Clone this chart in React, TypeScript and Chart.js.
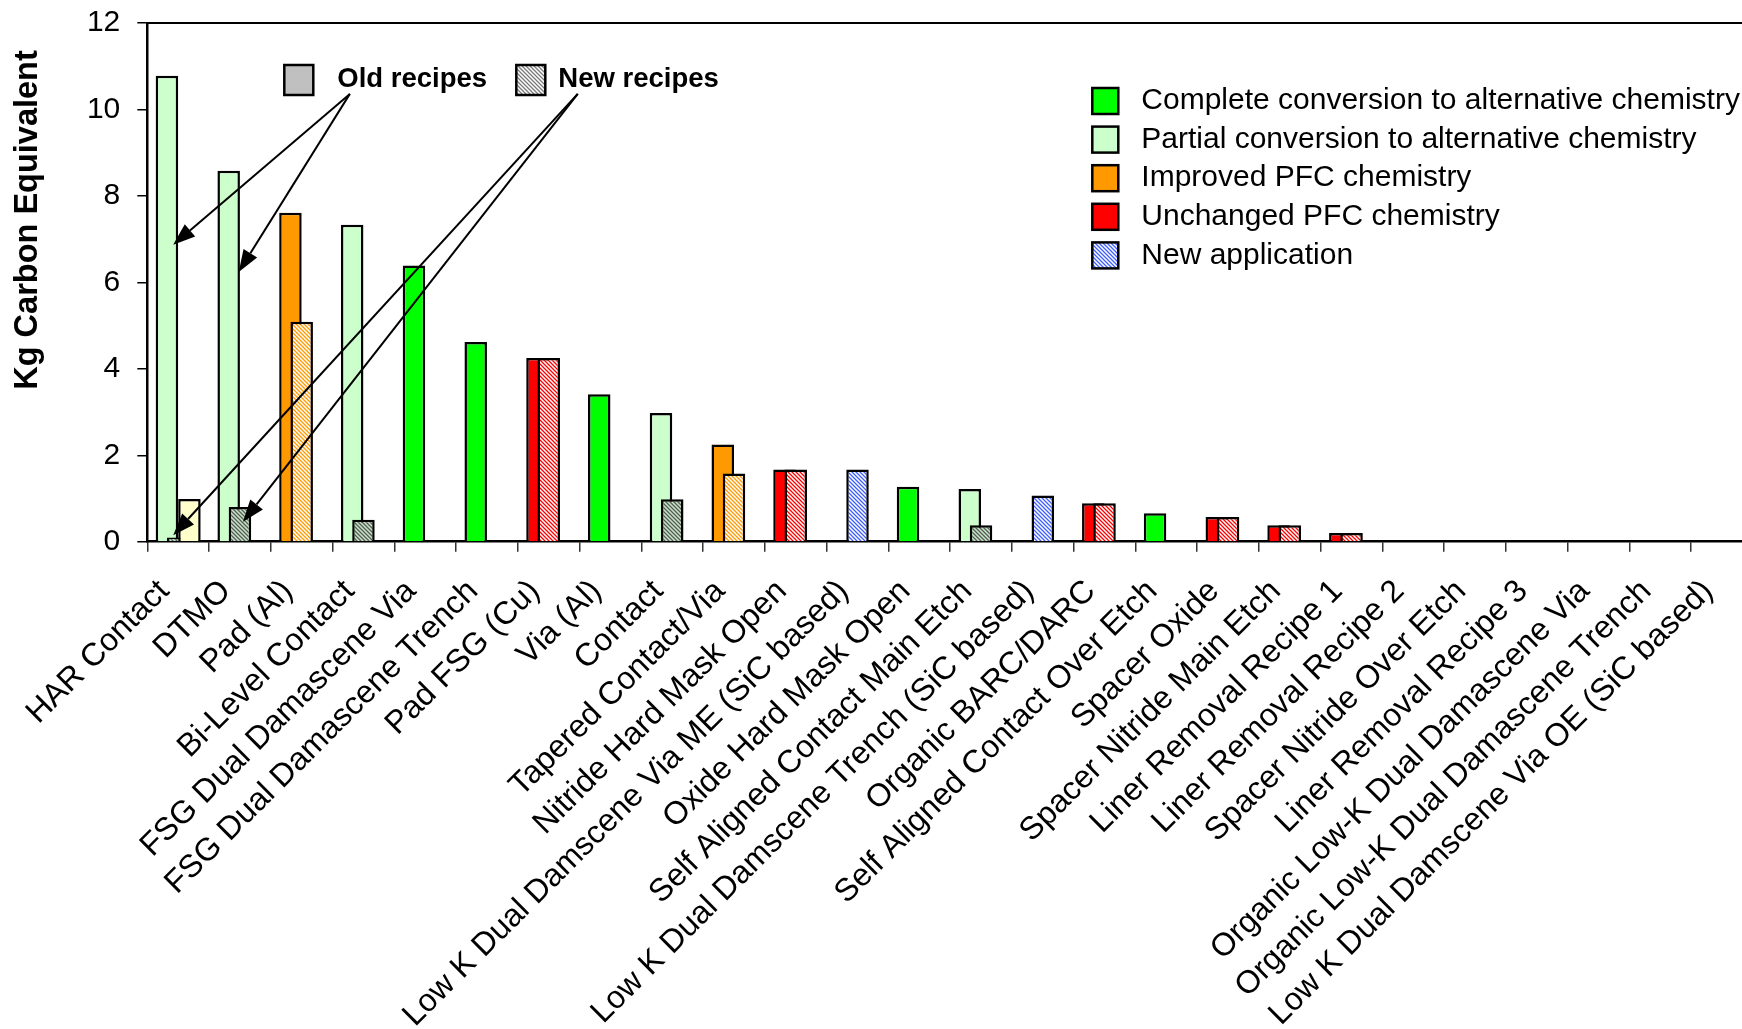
import React, { useEffect, useRef } from 'react';
import { Chart, registerables } from 'chart.js';

Chart.register(...registerables);

// ---------------- data ----------------
const categories = [
  'HAR Contact',
  'DTMO',
  'Pad (Al)',
  'Bi-Level Contact',
  'FSG Dual Damascene Via',
  'FSG Dual Damascene Trench',
  'Pad FSG (Cu)',
  'Via (Al)',
  'Contact',
  'Tapered Contact/Via',
  'Nitride Hard Mask Open',
  'Low K Dual Damscene Via ME (SiC based)',
  'Oxide Hard Mask Open',
  'Self Aligned Contact Main Etch',
  'Low K Dual Damscene Trench (SiC based)',
  'Organic BARC/DARC',
  'Self Aligned Contact Over Etch',
  'Spacer Oxide',
  'Spacer Nitride Main Etch',
  'Liner Removal Recipe 1',
  'Liner Removal Recipe 2',
  'Spacer Nitride Over Etch',
  'Liner Removal Recipe 3',
  'Organic Low-K Dual Damascene Via',
  'Organic Low-K Dual Damascene Trench',
  'Low K Dual Damscene Via OE (SiC based)',
];

// chemistry class of each process
const categoryTypes = [
  'partial', 'partial', 'improved', 'partial', 'complete', 'complete', 'unchanged', 'complete',
  'partial', 'improved', 'unchanged', 'newapp', 'complete', 'partial', 'newapp', 'unchanged',
  'complete', 'unchanged', 'unchanged', 'unchanged', 'none', 'none', 'none', 'none', 'none', 'none',
];

const oldRecipeValues = [
  10.78, 8.58, 7.61, 7.33, 6.39, 4.62, 4.25, 3.41, 2.98, 2.25, 1.67, null, 1.27, 1.22, null, 0.89,
  0.66, 0.57, 0.38, 0.2, null, null, null, null, null, null,
];

const newRecipeValues = [
  0.1, 0.8, 5.09, 0.51, null, null, 4.25, null, 0.98, 1.58, 1.67, 1.67, null, 0.38, 1.07, 0.89,
  null, 0.57, 0.38, 0.2, null, null, null, null, null, null,
];

const extraRecipeValues = [
  0.99, null, null, null, null, null, null, null, null, null, null, null, null, null, null, null,
  null, null, null, null, null, null, null, null, null, null,
];

const yTickValues = [0, 2, 4, 6, 8, 10, 12];

const legendTypes = ['complete', 'partial', 'improved', 'unchanged', 'newapp'];
const legendLabels = [
  'Complete conversion to alternative chemistry',
  'Partial conversion to alternative chemistry',
  'Improved PFC chemistry',
  'Unchanged PFC chemistry',
  'New application',
];

const recipeLegendLabels = ['Old recipes', 'New recipes'];
const yAxisTitle = 'Kg Carbon Equivalent';

// arrows: [category index (fractional), value] for start and tip
const oldArrowStart = [2.78, 10.36];
const oldArrowTips = [[-0.08, 6.87], [0.98, 6.24]];
const newArrowStart = [6.47, 10.36];
const newArrowTips = [[-0.08, 0.15], [1.05, 0.46]];

// ---------------- styles ----------------
const FONT = "'Liberation Sans', Arial, Helvetica, sans-serif";
const solidColors: Record<string, string> = {
  complete: '#00ff00',
  partial: '#ccffcc',
  improved: '#ff9900',
  unchanged: '#ff0000',
};

function makeHatch(bg: string, fg: string): CanvasPattern | string {
  const c = document.createElement('canvas');
  c.width = 4;
  c.height = 4;
  const g = c.getContext('2d');
  if (!g) return bg;
  g.fillStyle = bg;
  g.fillRect(0, 0, 4, 4);
  g.strokeStyle = fg;
  g.lineWidth = 1.3;
  g.beginPath();
  g.moveTo(-1, -1);
  g.lineTo(5, 5);
  g.moveTo(-1, 3);
  g.lineTo(1, 5);
  g.moveTo(3, -1);
  g.lineTo(5, 1);
  g.stroke();
  return g.createPattern(c, 'repeat') || bg;
}

export default function App() {
  const canvasRef = useRef<HTMLCanvasElement | null>(null);

  useEffect(() => {
    const canvas = canvasRef.current;
    if (!canvas) return;

    const hatches: Record<string, CanvasPattern | string> = {
      partial: makeHatch('#c4e6c4', '#5a5a5a'),
      improved: makeHatch('#ffffff', '#ff9900'),
      unchanged: makeHatch('#ffffff', '#ff0000'),
      newapp: makeHatch('#ffffff', '#3f5fff'),
      grey: makeHatch('#ffffff', '#7a7a7a'),
    };

    const oldColors = categoryTypes.map((t) => solidColors[t] || '#c0c0c0');
    const newColors = categoryTypes.map((t) => hatches[t] || '#c0c0c0');

    const orderedBars = {
      id: 'orderedBars',
      beforeDatasetsDraw(chart: any) {
        const ctx = chart.ctx;
        const a = chart.chartArea;
        ctx.save();
        ctx.beginPath();
        ctx.rect(a.left, a.top - 4, a.right - a.left, a.bottom - a.top + 4);
        ctx.clip();
        for (let i = 0; i < chart.data.datasets.length; i++) {
          const meta = chart.getDatasetMeta(i);
          if (!meta.hidden) meta.controller.draw();
        }
        ctx.restore();
        return false;
      },
    };

    const decorations = {
      id: 'decorations',
      afterDraw(chart: any) {
        const ctx = chart.ctx;
        const a = chart.chartArea;
        const xs = chart.scales.x;
        const ys = chart.scales.y;
        const step = xs.getPixelForValue(1) - xs.getPixelForValue(0);
        const px = (i: number) => xs.getPixelForValue(0) + i * step;
        const py = (v: number) => ys.getPixelForValue(v);

        ctx.save();
        // top border of plot
        ctx.strokeStyle = '#000';
        ctx.lineWidth = 2;
        ctx.beginPath();
        ctx.moveTo(a.left, a.top);
        ctx.lineTo(a.right, a.top);
        ctx.stroke();

        // y axis title
        ctx.save();
        ctx.translate(28, a.top + 197);
        ctx.rotate(-Math.PI / 2);
        ctx.font = `bold 32.5px ${FONT}`;
        ctx.fillStyle = '#000';
        ctx.textAlign = 'center';
        ctx.textBaseline = 'middle';
        ctx.fillText(yAxisTitle, 0, 0);
        ctx.restore();

        // recipe key
        const keyTop = a.top + 42;
        const keyBoxes = [
          { x: a.left + 137, gap: 53, fill: '#c0c0c0' as any },
          { x: a.left + 369, gap: 42, fill: hatches.grey as any },
        ];
        ctx.font = `bold 27.5px ${FONT}`;
        ctx.textBaseline = 'middle';
        ctx.textAlign = 'left';
        keyBoxes.forEach((b, i) => {
          ctx.fillStyle = b.fill;
          ctx.fillRect(b.x, keyTop, 29, 30);
          ctx.strokeStyle = '#000';
          ctx.lineWidth = 2.5;
          ctx.strokeRect(b.x, keyTop, 29, 30);
          ctx.fillStyle = '#000';
          ctx.fillText(recipeLegendLabels[i], b.x + b.gap, keyTop + 14);
        });

        // arrows
        const arrow = (from: number[], to: number[]) => {
          const x0 = px(from[0]);
          const y0 = py(from[1]);
          const x1 = px(to[0]);
          const y1 = py(to[1]);
          const ang = Math.atan2(y1 - y0, x1 - x0);
          const len = 22;
          const hw = 8;
          const bx = x1 - len * Math.cos(ang);
          const by = y1 - len * Math.sin(ang);
          ctx.strokeStyle = '#000';
          ctx.lineWidth = 2;
          ctx.beginPath();
          ctx.moveTo(x0, y0);
          ctx.lineTo(bx, by);
          ctx.stroke();
          ctx.fillStyle = '#000';
          ctx.beginPath();
          ctx.moveTo(x1, y1);
          ctx.lineTo(bx + hw * Math.sin(ang), by - hw * Math.cos(ang));
          ctx.lineTo(bx - hw * Math.sin(ang), by + hw * Math.cos(ang));
          ctx.closePath();
          ctx.fill();
        };
        oldArrowTips.forEach((t) => arrow(oldArrowStart, t));
        newArrowTips.forEach((t) => arrow(newArrowStart, t));

        // chemistry legend
        const legX = a.left + 945;
        const legY0 = a.top + 78;
        const legStep = 38.6;
        ctx.font = `30px ${FONT}`;
        ctx.textAlign = 'left';
        ctx.textBaseline = 'middle';
        legendTypes.forEach((t, i) => {
          const cy = legY0 + i * legStep;
          ctx.fillStyle = (solidColors[t] || hatches[t]) as any;
          ctx.fillRect(legX, cy - 13, 26, 26);
          ctx.strokeStyle = '#000';
          ctx.lineWidth = 2.5;
          ctx.strokeRect(legX, cy - 13, 26, 26);
          ctx.fillStyle = '#000';
          ctx.fillText(legendLabels[i], legX + 49, cy);
        });
        ctx.restore();
      },
    };

    const barCommon = {
      borderColor: '#000000',
      borderWidth: 2.5,
      categoryPercentage: 0.5466,
      barPercentage: 2.0,
    };

    const chart = new Chart(canvas, {
      type: 'bar',
      data: {
        labels: categories,
        datasets: [
          { label: 'Old recipes', data: oldRecipeValues as any, backgroundColor: oldColors as any, ...barCommon },
          { label: 'New recipes', data: newRecipeValues as any, backgroundColor: newColors as any, ...barCommon },
          { label: 'Other', data: extraRecipeValues as any, backgroundColor: '#ffffcc', ...barCommon },
        ],
      },
      options: {
        responsive: false,
        animation: false,
        devicePixelRatio: 1,
        layout: { padding: { top: 23, right: 7, left: 0, bottom: 0 } },
        plugins: {
          legend: { display: false },
          tooltip: { enabled: false },
        },
        scales: {
          x: {
            grid: {
              drawOnChartArea: false,
              drawTicks: true,
              tickLength: 10,
              color: '#333333',
              lineWidth: 1.5,
              offset: true,
            },
            border: { display: true, color: '#000000', width: 2.5 },
            ticks: {
              autoSkip: false,
              minRotation: 45,
              maxRotation: 45,
              color: '#000000',
              padding: 21,
              labelOffset: -14,
              font: { family: FONT, size: 32 },
            },
            afterFit: (scale: any) => {
              scale.height = 487.3;
              scale.paddingRight = 0;
            },
          },
          y: {
            min: 0,
            max: 12,
            afterBuildTicks: (scale: any) => {
              scale.ticks = yTickValues.map((v) => ({ value: v }));
            },
            grid: {
              drawOnChartArea: false,
              drawTicks: true,
              tickLength: 10,
              color: '#000000',
              lineWidth: 1.5,
            },
            border: { display: true, color: '#000000', width: 2.5 },
            ticks: {
              color: '#000000',
              padding: 17,
              font: { family: FONT, size: 30 },
            },
            afterFit: (scale: any) => {
              scale.width = 147.3;
              scale.paddingTop = 0;
              scale.paddingBottom = 0;
            },
          },
        },
      },
      plugins: [orderedBars, decorations],
    });

    return () => {
      chart.destroy();
    };
  }, []);

  return (
    <div
      style={{
        position: 'absolute',
        left: 0,
        top: 0,
        width: 1742,
        height: 1029,
        overflow: 'hidden',
        background: '#ffffff',
      }}
    >
      <canvas ref={canvasRef} width={1760} height={1029} style={{ width: 1760, height: 1029, display: 'block' }} />
    </div>
  );
}
